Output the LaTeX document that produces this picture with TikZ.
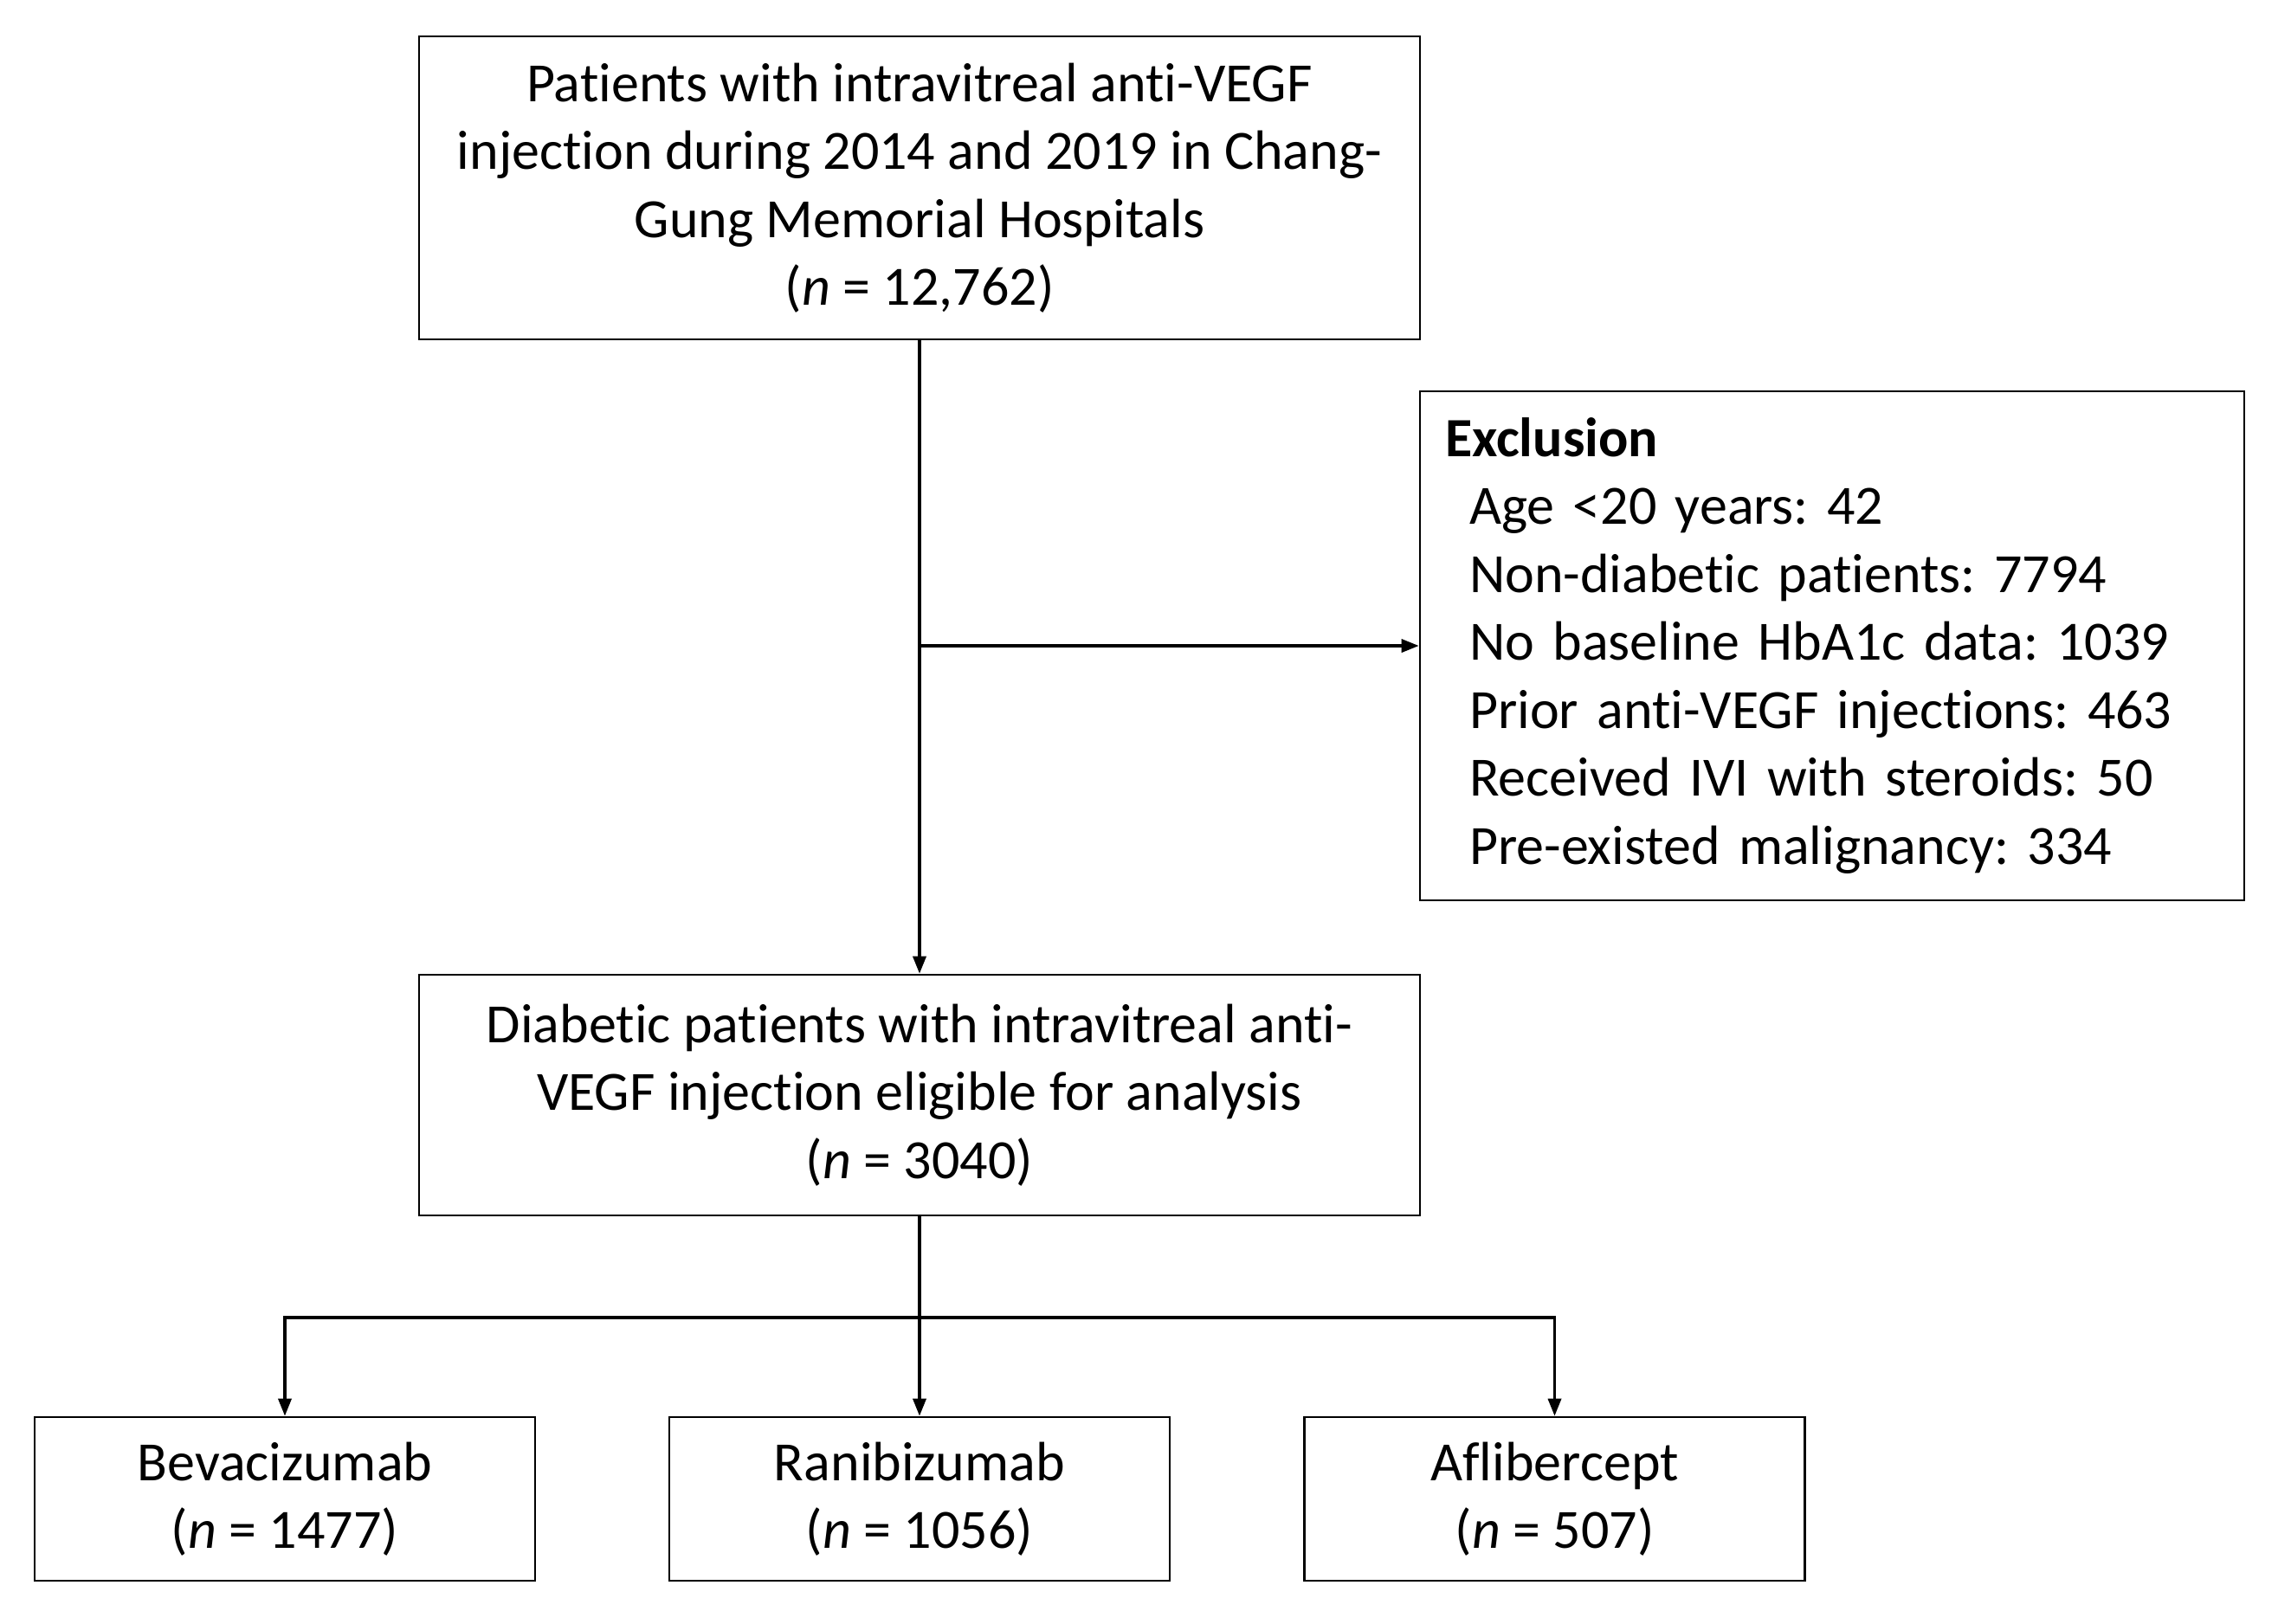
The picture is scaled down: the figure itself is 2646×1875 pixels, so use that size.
\documentclass[tikz,border=0pt]{standalone}
\usepackage{fontspec}
\setmainfont[RawFeature={-liga;-clig;-dlig}]{Carlito}
\usetikzlibrary{arrows.meta}
\frenchspacing
\newcommand\nolig{\kern0pt{}}
\begin{document}
\begin{tikzpicture}[x=0.5pt,y=-0.5pt,
  box/.style={draw, line width=1.3pt, rectangle, align=center, inner sep=0pt,
    font=\fontsize{32}{39.25}\selectfont},
  conn/.style={line width=1.7pt},
  arr/.style={conn, -{Triangle[length=10pt,width=7.5pt]}}]
\useasboundingbox (0,0) rectangle (2646,1875);
\node[box, minimum width=578pt, minimum height=175pt] (top) at (1062,217)
  {Pat\nolig ients with intravitreal ant\nolig i-VEGF\\injection during 2014 and 2019 in Chang-\\Gung Memorial Hospitals\\(\textit{n} = 12,762)};
\node[box, align=left, minimum width=476pt, minimum height=294pt, text width=447pt, inner xsep=14.5pt] (excl) at (2116,746)
  {\textbf{Exclusion}\\
   \hspace*{14pt}Age <20 years: 42\\
   \hspace*{14pt}Non-diabet\nolig ic pat\nolig ients: 7794\\
   \hspace*{14pt}No baseline HbA1c data: 1039\\
   \hspace*{14pt}Prior ant\nolig i-VEGF injections: 463\\
   \hspace*{14pt}Received IVI with steroids: 50\\
   \hspace*{14pt}Pre-existed malignancy: 334};
\node[box, minimum width=578pt, minimum height=139pt] (mid) at (1062,1265)
  {Diabet\nolig ic pat\nolig ients with intravitreal ant\nolig i-\\VEGF injection eligible for analysis\\(\textit{n} = 3040)};
\node[box, minimum width=289pt, minimum height=94.5pt] (b1) at (329,1731.5)
  {Bevacizumab\\(\textit{n} = 1477)};
\node[box, minimum width=289pt, minimum height=94.5pt] (b2) at (1062,1731.5)
  {Ranibizumab\\(\textit{n} = 1056)};
\node[box, minimum width=289pt, minimum height=94.5pt] (b3) at (1795.5,1731.5)
  {Af\nolig libercept\\(\textit{n} = 507)};
\draw[arr] (top.south) -- (mid.north);
\draw[arr] (top.south |- excl.west) -- (excl.west);
\coordinate (split) at (1062,1522);
\draw[conn] (mid.south) -- (split);
\draw[arr] (split) -- (b2.north);
\draw[arr] (split) -| (b1.north);
\draw[arr] (split) -| (b3.north);
\end{tikzpicture}
\end{document}
